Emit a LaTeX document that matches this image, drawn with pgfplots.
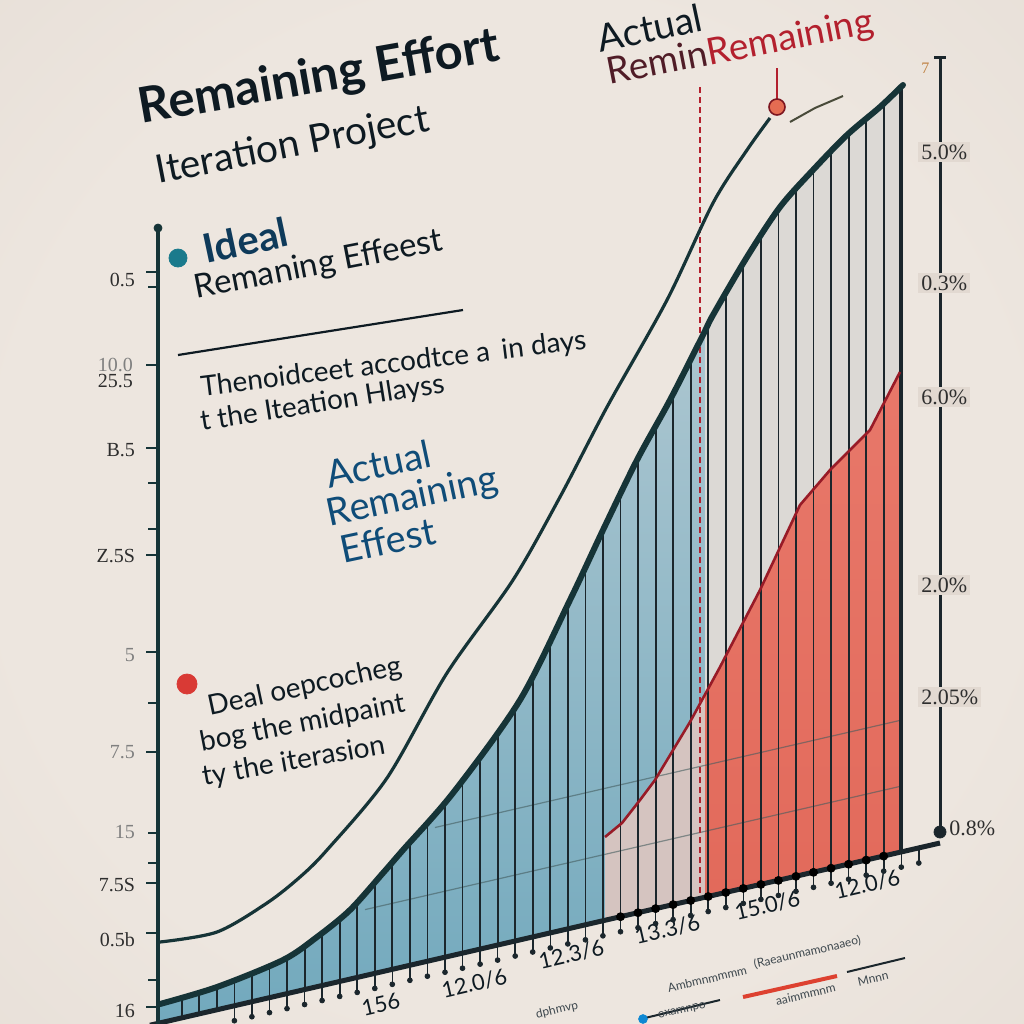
\documentclass[border=0pt]{standalone}
\usepackage{pgfplots}
\pgfplotsset{compat=1.18}
\usepackage{fontspec}
\setmainfont{Lato}
\newfontfamily\tickfont{Liberation Serif}
\definecolor{bgin}{HTML}{EDE6DF}
\definecolor{bgmid}{HTML}{E2D9D1}
\definecolor{bgout}{HTML}{B5AAA1}
\definecolor{bluetop}{HTML}{ACC6D0}
\definecolor{bluebot}{HTML}{72A9BD}
\definecolor{lightfill}{HTML}{DCD9D5}
\definecolor{pinkfill}{HTML}{D5C4C0}
\definecolor{redfill}{HTML}{E26A5B}
\definecolor{redtop}{HTML}{E8786A}
\definecolor{darkline}{HTML}{163437}
\definecolor{barline}{HTML}{1B262C}
\definecolor{titlecol}{HTML}{0E1A22}
\definecolor{navy}{HTML}{0E3A5A}
\definecolor{bluetxt}{HTML}{0F4C78}
\definecolor{redtxt}{HTML}{B3202E}
\definecolor{tealdot}{HTML}{1A7A8C}
\definecolor{reddot}{HTML}{D93A35}
\definecolor{ticktxt}{HTML}{2E2E2E}
\pgfdeclareradialshading{vignette}{\pgfpoint{0bp}{0bp}}{color(0bp)=(bgin); color(25bp)=(bgin); color(50bp)=(bgmid); color(71bp)=(bgout)}
\begin{document}
\begin{tikzpicture}
\begin{axis}[width=512pt,height=512pt,scale only axis,at={(0,0)},anchor=south west,
  xmin=0,xmax=1024,ymin=0,ymax=1024,y dir=reverse,hide axis,clip=false,
  unbounded coords=jump]
% background
\addplot[draw=none,shading=vignette,forget plot] coordinates {(0,1024) (1024,1024)} \closedcycle;
% area under the actual curve: blue part and light part
\addplot[top color=bluetop,bottom color=bluebot,draw=none] coordinates {(160,1004) (217,987) (283,960) (317,937) (350,910) (383,873) (403,850) (453,793) (520,700) (570,600) (603,530) (637,460) (670,400) (703,335) (705,331) (705,897.3) (160,1022.8)} -- cycle;
\addplot[fill=lightfill,draw=none] coordinates {(705,331) (713,315) (747,257) (780,207) (813,170) (847,135) (880,107) (903,85) (903,851.7) (705,897.3)} -- cycle;
% pink and red areas under the red line
\addplot[fill=pinkfill,draw=none] coordinates {(605,837) (622,823) (640,800) (655,780) (690,722) (705,694.5) (705,897.3) (605,920.3)} -- cycle;
\addplot[top color=redtop,bottom color=redfill,draw=none] coordinates {(705,694.5) (720,667) (760,590) (800,505) (830,470) (870,430) (900,372) (900,851.2) (705,897.3)} -- cycle;
% faint grid lines
\addplot[darkline!80,line width=0.6pt,opacity=0.6] coordinates {(365,909.6) (900,786.4)};
\addplot[darkline!80,line width=0.6pt,opacity=0.6] coordinates {(435,827.5) (900,720.4)};
% bars
\addplot[barline,line width=0.9pt] coordinates {
(181.7,1017.8)(181.7,997.5)(181.7,nan)
(199.3,1013.8)(199.3,992.3)(199.3,nan)
(216.8,1009.8)(216.8,987.1)(216.8,nan)
(234.4,1005.7)(234.4,979.9)(234.4,nan)
(251.9,1001.7)(251.9,972.7)(251.9,nan)
(269.5,997.6)(269.5,965.5)(269.5,nan)
(287.0,993.6)(287.0,957.3)(287.0,nan)
(304.6,989.5)(304.6,945.4)(304.6,nan)
(322.1,985.5)(322.1,932.8)(322.1,nan)
(339.7,981.4)(339.7,918.4)(339.7,nan)
(357.2,977.4)(357.2,901.9)(357.2,nan)
(374.8,973.4)(374.8,882.2)(374.8,nan)
(392.3,969.3)(392.3,862.3)(392.3,nan)
(409.9,965.3)(409.9,842.1)(409.9,nan)
(427.4,961.2)(427.4,822.2)(427.4,nan)
(445.0,957.2)(445.0,802.1)(445.0,nan)
(462.5,953.2)(462.5,779.8)(462.5,nan)
(480.1,949.1)(480.1,755.4)(480.1,nan)
(497.6,945.1)(497.6,731.1)(497.6,nan)
(515.2,941.0)(515.2,706.7)(515.2,nan)
(532.7,937.0)(532.7,674.6)(532.7,nan)
(550.3,932.9)(550.3,639.4)(550.3,nan)
(567.8,928.9)(567.8,604.4)(567.8,nan)
(585.4,924.8)(585.4,567.3)(585.4,nan)
(602.9,920.8)(602.9,530.2)(602.9,nan)
(620.5,916.7)(620.5,494.0)(620.5,nan)
(638.0,912.7)(638.0,458.2)(638.0,nan)
(655.6,908.6)(655.6,426.2)(655.6,nan)
(673.1,904.6)(673.1,393.9)(673.1,nan)
(690.7,900.5)(690.7,359.2)(690.7,nan)
(708.2,896.5)(708.2,324.6)(708.2,nan)
(725.8,892.5)(725.8,293.2)(725.8,nan)
(743.3,888.4)(743.3,263.3)(743.3,nan)
(760.9,884.4)(760.9,235.9)(760.9,nan)
(778.4,880.4)(778.4,209.4)(778.4,nan)
(796.0,876.3)(796.0,189.1)(796.0,nan)
(813.5,872.3)(813.5,170.4)(813.5,nan)
(831.1,868.2)(831.1,151.4)(831.1,nan)
(848.6,864.2)(848.6,133.6)(848.6,nan)
(866.2,860.1)(866.2,118.7)(866.2,nan)
(883.7,856.1)(883.7,103.5)(883.7,nan)
};
% bar segments inside the pink and red areas (drawn again on top)
\addplot[only marks,mark=none,error bars/.cd,y dir=minus,y explicit,error mark=none,error bar style={line width=0.9pt,barline}] coordinates {
(620.5,916.7) -= (0,92.5) (638.0,912.7) -= (0,110.1) (655.6,908.6) -= (0,129.6)
(673.1,904.6) -= (0,154.6) (690.7,900.5) -= (0,179.8) (708.2,896.5) -= (0,207.9)
(725.8,892.5) -= (0,236.7) (743.3,888.4) -= (0,266.3) (760.9,884.4) -= (0,296.3)
(778.4,880.4) -= (0,329.5) (796.0,876.3) -= (0,362.8) (813.5,872.3) -= (0,383.1)
(831.1,868.2) -= (0,399.3) (848.6,864.2) -= (0,412.8) (866.2,860.1) -= (0,426.3)
(883.7,856.1) -= (0,452.6)
};
\addplot[barline,line width=2pt] coordinates {(901.3,852.1)(901.3,86.6)};
% red line and dashed vertical
\addplot[redtxt!85!black,line width=1.3pt] coordinates {(605,837) (622,823) (640,800) (655,780) (690,722) (720,667) (760,590) (800,505) (830,470) (870,430) (900,372)};
\addplot[redtxt,line width=1pt,dash pattern=on 3pt off 2pt] coordinates {(700,87) (700,893)};
% thick curve
\addplot[darkline,line width=3pt,line cap=round,smooth] coordinates {(160,1004) (217,987) (283,960) (317,937) (350,910) (383,873) (403,850) (453,793) (520,700) (570,600) (603,530) (637,460) (670,400) (703,335) (713,315) (747,257) (780,207) (813,170) (847,135) (880,107) (903,85)};
% thin ideal curve
\addplot[darkline,line width=1.6pt,smooth] coordinates {(160,942) (217,932) (267,903) (300,877) (327,850) (387,778) (447,673) (513,580) (560,497) (607,407) (667,300) (713,203) (747,150) (770,118)};
\addplot[darkline!70!brown,line width=1pt] coordinates {(790,122) (815,108) (843,96)};
\addplot[redtxt,line width=1pt] coordinates {(777,68) (777,100)};
\addplot[only marks,mark=*,mark size=4pt,mark options={fill=redfill!90!orange,draw=redtxt!70!black,line width=0.8pt}] coordinates {(777,107)};
% baseline
\addplot[barline,line width=2.5pt] coordinates {(150,1025.2) (940,843)};
% baseline ticks with drop ends
\addplot[only marks,mark=*,mark size=1.2pt,barline,error bars/.cd,y dir=minus,y explicit,error mark=none,error bar style={line width=0.8pt,barline}] coordinates {
(234.4,1020.7) -= (0,15) (251.9,1016.7) -= (0,15)
(269.5,1012.6) -= (0,15) (287.0,1008.6) -= (0,15) (304.6,1004.5) -= (0,15) (322.1,1000.5) -= (0,15)
(339.7,996.4) -= (0,15) (357.2,992.4) -= (0,15) (374.8,988.4) -= (0,15) (392.3,984.3) -= (0,15)
(409.9,980.3) -= (0,15) (427.4,976.2) -= (0,15) (445.0,972.2) -= (0,15) (462.5,968.2) -= (0,15)
(480.1,964.1) -= (0,15) (497.6,960.1) -= (0,15) (515.2,956.0) -= (0,15) (532.7,952.0) -= (0,15)
(550.3,947.9) -= (0,15) (567.8,943.9) -= (0,15) (585.4,939.8) -= (0,15) (602.9,935.8) -= (0,15)
(620.5,931.7) -= (0,15) (638.0,927.7) -= (0,15) (655.6,923.6) -= (0,15) (673.1,919.6) -= (0,15)
(690.7,915.5) -= (0,15) (708.2,911.5) -= (0,15) (725.8,907.5) -= (0,15) (743.3,903.4) -= (0,15)
(760.9,899.4) -= (0,15) (778.4,895.4) -= (0,15) (796.0,891.3) -= (0,15) (813.5,887.3) -= (0,15)
(831.1,883.2) -= (0,15) (848.6,879.2) -= (0,15) (866.2,875.1) -= (0,15) (883.7,871.1) -= (0,15)
(901.3,867.1) -= (0,15) (918.8,863.0) -= (0,15)
};
% left axis
\addplot[darkline,line width=2pt] coordinates {(158,228) (158,1024)};
\addplot[only marks,mark=*,mark size=2pt,darkline] coordinates {(158,228)};
\addplot[darkline,line width=1.2pt] coordinates {
(146,272)(158,272)(146,nan) (148,287)(158,287)(148,nan) (146,365)(158,365)(146,nan)
(146,448)(158,448)(146,nan) (148,483)(158,483)(148,nan) (148,529)(158,529)(148,nan)
(146,555)(158,555)(146,nan) (146,652)(158,652)(146,nan) (148,703)(158,703)(148,nan)
(146,752)(158,752)(146,nan) (148,833)(158,833)(148,nan) (148,863)(158,863)(148,nan)
(146,883)(158,883)(146,nan) (146,933)(158,933)(146,nan) (148,980)(158,980)(148,nan)
(146,1007)(158,1007)(146,nan)};
% right axis
\addplot[barline,line width=1.5pt] coordinates {(940,57) (940,836)};
\addplot[barline,line width=1.5pt] coordinates {(934,57) (946,57)};
\addplot[only marks,mark=*,mark size=3pt,barline] coordinates {(940,832)};
% dots
\addplot[only marks,mark=*,mark size=4.5pt,tealdot] coordinates {(178,258)};
\addplot[only marks,mark=*,mark size=5pt,reddot] coordinates {(187,684)};
% rule under Ideal text
\addplot[titlecol,line width=1.1pt] coordinates {(178,355) (463,310)};
% bottom legend-like marks
\addplot[barline,line width=1pt] coordinates {(645,1018) (720,1000)};
\addplot[only marks,mark=*,mark size=2.2pt,cyan!70!blue] coordinates {(643,1019)};
\addplot[reddot!90!orange,line width=2pt] coordinates {(743,997) (837,976)};
\addplot[barline,line width=1pt] coordinates {(847,972) (905,958)};

% ---------- texts ----------
\node[anchor=base west,rotate=10,text=titlecol,font=\fontsize{24.5}{28}\selectfont\bfseries] at (axis cs:135,125) {Remaining Effort};
\node[anchor=base west,rotate=11,text=titlecol,font=\fontsize{19.5}{22}\selectfont] at (axis cs:152,185) {Iteration Project};
\node[anchor=base west,rotate=12,text=titlecol,font=\fontsize{19}{22}\selectfont] at (axis cs:594,54) {Actual};
\node[anchor=base west,rotate=11,text=titlecol!60!redtxt,font=\fontsize{18.5}{22}\selectfont] at (axis cs:603,86) {Remin\textcolor{redtxt}{Remaining}};
\node[anchor=base west,rotate=12,text=navy,font=\fontsize{20}{24}\selectfont\bfseries] at (axis cs:200,265) {Ideal};
\node[anchor=base west,rotate=11,text=titlecol,font=\fontsize{16.5}{20}\selectfont] at (axis cs:190,300) {Remaning Effeest};
\node[anchor=base west,rotate=7,text=titlecol,font=\fontsize{14}{17}\selectfont] at (axis cs:195,397) {Thenoidceet accodtce a\, in days};
\node[anchor=base west,rotate=9,text=titlecol,font=\fontsize{14}{17}\selectfont] at (axis cs:195,432) {t the Iteation Hlayss};
\node[anchor=base west,rotate=12,text=bluetxt,font=\fontsize{19}{22}\selectfont] at (axis cs:323,490) {Actual};
\node[anchor=base west,rotate=12,text=bluetxt,font=\fontsize{19}{22}\selectfont] at (axis cs:323,528) {Remaining};
\node[anchor=base west,rotate=12,text=bluetxt,font=\fontsize{19}{22}\selectfont] at (axis cs:337,565) {Effest};
\node[anchor=base west,rotate=12,text=titlecol,font=\fontsize{14}{17}\selectfont] at (axis cs:203,717) {Deal oepcocheg};
\node[anchor=base west,rotate=11,text=titlecol,font=\fontsize{14}{17}\selectfont] at (axis cs:195,753) {bog the midpaint};
\node[anchor=base west,rotate=10,text=titlecol,font=\fontsize{14}{17}\selectfont] at (axis cs:197,787) {ty the iterasion};
% left tick labels
\begin{scope}[every node/.style={anchor=east,text=ticktxt,font=\tickfont\fontsize{10}{12}\selectfont}]
\node at (axis cs:142,280) {0.5};
\node[text=gray] at (axis cs:140,365) {10.0};
\node at (axis cs:140,381) {25.5};
\node at (axis cs:142,450) {B.5};
\node at (axis cs:142,556) {Z.5S};
\node[text=gray] at (axis cs:142,655) {5};
\node[text=gray] at (axis cs:142,752) {7.5};
\node[text=gray] at (axis cs:142,832) {15};
\node at (axis cs:142,885) {7.5S};
\node at (axis cs:142,940) {0.5b};
\node at (axis cs:142,1011) {16};
\end{scope}
% right tick labels
\begin{scope}[every node/.style={anchor=west,text=ticktxt,font=\tickfont\fontsize{11}{13}\selectfont,fill=bgmid,inner sep=1.5pt}]
\node at (axis cs:918,152) {5.0\%};
\node at (axis cs:918,283) {0.3\%};
\node at (axis cs:918,397) {6.0\%};
\node at (axis cs:918,585) {2.0\%};
\node at (axis cs:918,697) {2.05\%};
\node[fill=none] at (axis cs:946,828) {0.8\%};
\node[fill=none,text=brown,font=\tickfont\fontsize{8}{9}\selectfont] at (axis cs:918,68) {7};
\end{scope}
% bottom tick labels
\begin{scope}[every node/.style={anchor=base west,rotate=13,text=titlecol,font=\fontsize{11}{13}\selectfont}]
\node at (axis cs:357,1018) {156};
\node at (axis cs:437,1000) {12.0/6};
\node at (axis cs:534,971) {12.3/6};
\node at (axis cs:630,946) {13.3/6};
\node at (axis cs:730,922) {15.0/6};
\node at (axis cs:830,901) {12.0/6};
\end{scope}
% garbled legend texts
\begin{scope}[every node/.style={anchor=base west,rotate=13,text=titlecol!80,font=\fontsize{6}{7}\selectfont}]
\node at (axis cs:662,994) {Ambmnmmmm};
\node at (axis cs:652,1020) {oxamnpo};
\node at (axis cs:748,970) {(Raeaunmamonaaeo)};
\node at (axis cs:770,1007) {aaimmmnm};
\node at (axis cs:852,988) {Mnnn};
\node at (axis cs:530,1020) {dphmvp};
\end{scope}
\end{axis}
\pgfresetboundingbox
\useasboundingbox (0,0) rectangle (512pt,512pt);
\end{tikzpicture}
\end{document}
